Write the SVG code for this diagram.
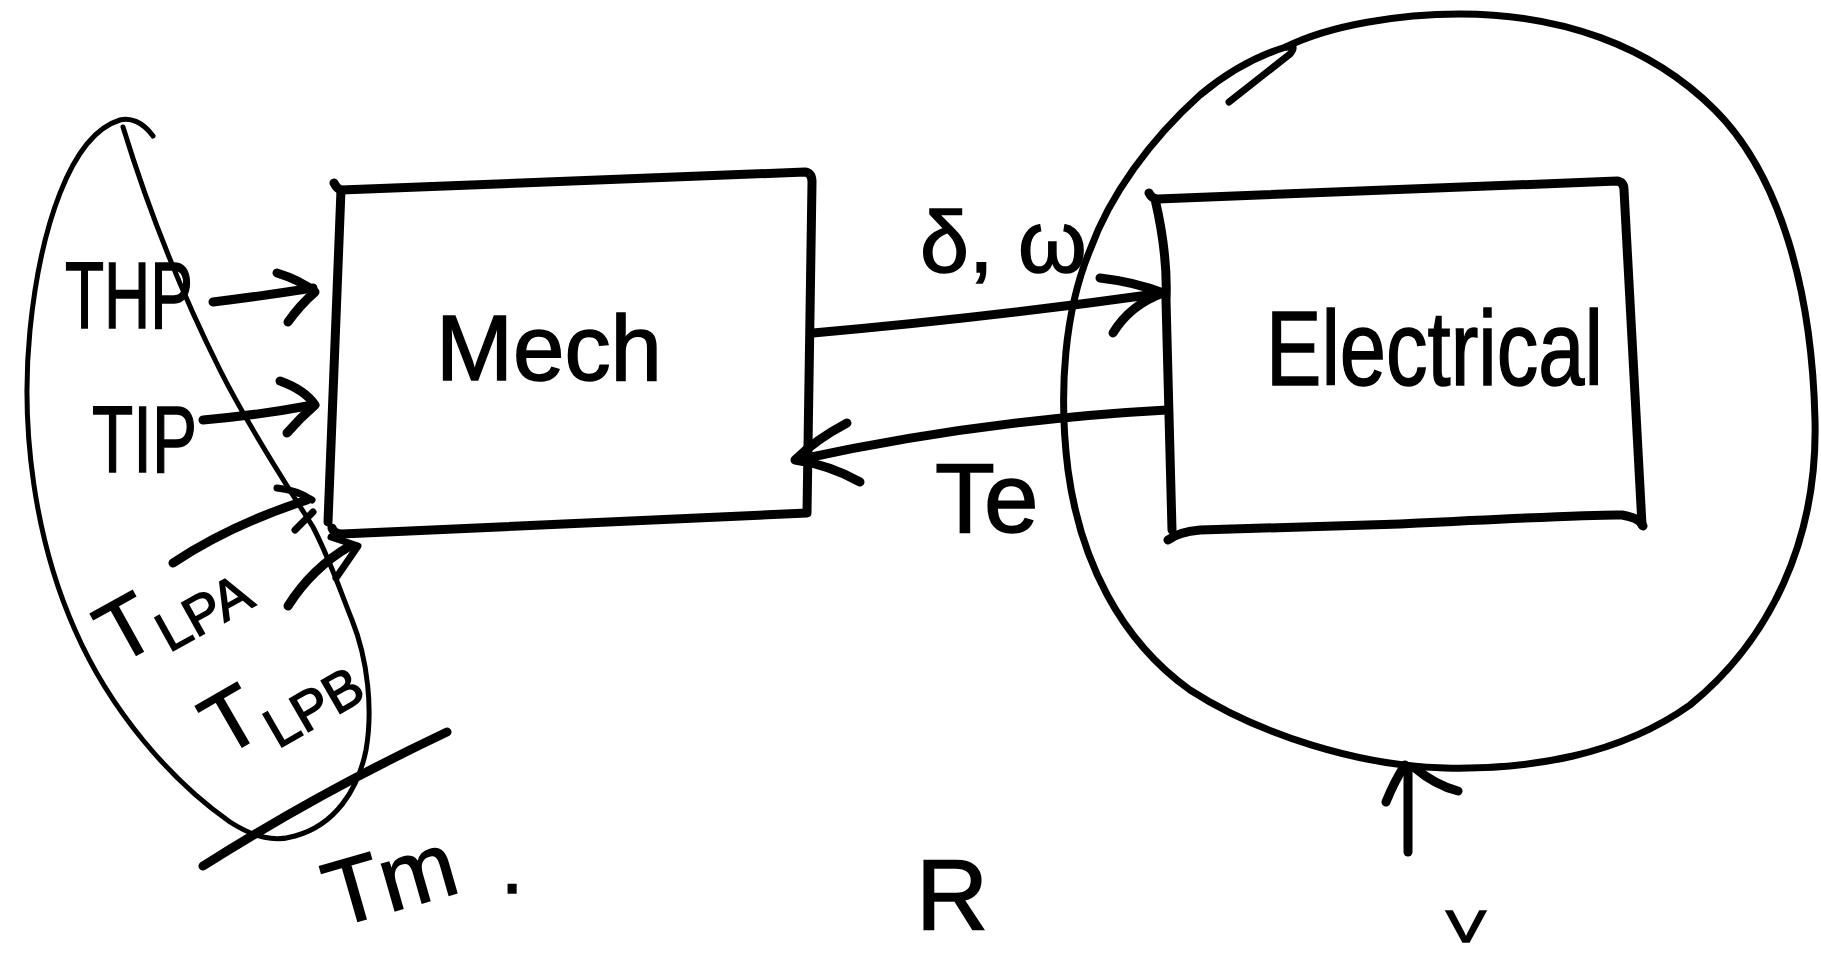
<svg xmlns="http://www.w3.org/2000/svg" width="1821" height="953" viewBox="0 0 1821 953">
<style>
.ln{fill:none;stroke:#000;stroke-linecap:round;stroke-linejoin:round}
.thin{stroke-width:5}
.mid{stroke-width:7}
.thick{stroke-width:9}
.t{font-family:"Liberation Sans",Arial,sans-serif;fill:#000;stroke:#000;stroke-width:1.5}
</style>
<rect width="1821" height="953" fill="#fff"/>
<g id="tm-group">
<path class="ln thin" d="M 153,136 C 143,122 130,117 120,120 C 70,135 40,230 30,330 C 20,430 35,540 75,630 C 110,710 170,780 230,822 C 255,838 275,842 295,836 C 335,825 358,790 366,750 C 373,710 368,660 352,620 C 340,590 330,560 313,527 C 290,490 250,430 220,370 C 185,300 150,215 123,127"/>
<path class="ln thick" d="M 203,866 Q 320,792 447,732"/>
<text class="t" x="65" y="328" font-size="95" textLength="128" lengthAdjust="spacingAndGlyphs">THP</text>
<text class="t" x="92" y="472" font-size="95" textLength="105" lengthAdjust="spacingAndGlyphs">TIP</text>
<g transform="translate(117,666) rotate(-29)"><text class="t" x="0" y="0" font-size="85">T<tspan font-size="55" dy="14">LPA</tspan></text></g>
<g transform="translate(223,758) rotate(-30)"><text class="t" x="0" y="0" font-size="85">T<tspan font-size="55" dy="20">LPB</tspan></text></g>
<g transform="translate(335,928) rotate(-16)"><text class="t" x="0" y="0" font-size="92">Tm</text></g>
<text class="t" x="501" y="893" font-size="80">.</text>
</g>
<g id="mech">
<path class="ln thick" d="M 334,183 Q 337,189 341,190 L 805,172 Q 812,173 812,182 L 807,513 L 342,534 Q 334,534 332,528"/>
<path class="ln thick" d="M 341,190 L 328,522"/>
<text class="t" x="436" y="380" font-size="92" textLength="226" lengthAdjust="spacingAndGlyphs">Mech</text>
</g>
<g id="electrical">
<path class="ln thick" d="M 1149,193 Q 1152,199 1158,199 L 1617,181 Q 1624,182 1624,190 L 1642,525"/>
<path class="ln thick" d="M 1155,199 Q 1168,255 1166,300 L 1172,530"/>
<path class="ln thick" d="M 1168,540 Q 1178,532 1200,530 L 1400,524 Q 1600,514 1622,515 Q 1640,518 1643,526"/>
<text class="t" x="1266" y="385" font-size="105" textLength="337" lengthAdjust="spacingAndGlyphs">Electrical</text>
</g>
<g id="electrical-boundary">
<path class="ln mid" d="M 1286,47 C 1330,25 1400,14 1460,14 C 1560,14 1650,45 1715,110 C 1780,175 1812,290 1815,420 C 1818,540 1770,640 1690,705 C 1620,755 1530,770 1445,768 C 1360,766 1260,735 1190,690 C 1120,640 1080,560 1068,470 C 1058,390 1065,310 1090,250 C 1110,195 1150,140 1200,95 C 1230,70 1260,55 1286,47"/>
<path class="ln mid" d="M 1286,47 Q 1298,44 1290,54 Q 1262,76 1229,102"/>
</g>
<g id="labels">
<text class="t" x="920" y="272" font-size="88">δ, ω</text>
<text class="t" x="935" y="532" font-size="98">Te</text>
<text class="t" x="916" y="930" font-size="100">R</text>
<text class="t" x="1446" y="942" font-size="45" textLength="40" lengthAdjust="spacingAndGlyphs">V</text>
</g>
<g id="connectors">
<path class="ln thick" d="M 213,302 Q 262,296 313,288"/>
<path class="ln thick" d="M 277,273 Q 300,280 315,292 Q 300,305 288,322"/>
<path class="ln thick" d="M 203,420 Q 260,415 313,405"/>
<path class="ln thick" d="M 280,381 Q 305,390 315,405 Q 300,418 287,433"/>
<path class="ln thick" d="M 173,563 Q 230,525 307,500"/>
<path class="ln mid" d="M 277,488 Q 297,490 312,500 M 313,512 L 295,530"/>
<path class="ln thick" d="M 288,606 Q 312,568 350,546"/>
<path class="ln mid" d="M 331,537 L 358,546 L 336,578"/>
<path class="ln thick" d="M 813,333 Q 985,318 1163,293"/>
<path class="ln thick" d="M 1100,278 Q 1135,282 1163,293 Q 1130,305 1113,333"/>
<path class="ln thick" d="M 1167,410 Q 980,420 797,460"/>
<path class="ln thick" d="M 847,423 Q 815,440 795,460 Q 830,465 860,482"/>
<path class="ln thick" d="M 1408,852 L 1408,768"/>
<path class="ln thick" d="M 1386,802 Q 1395,780 1405,765 M 1415,768 Q 1435,785 1458,791"/>
</g>
</svg>
